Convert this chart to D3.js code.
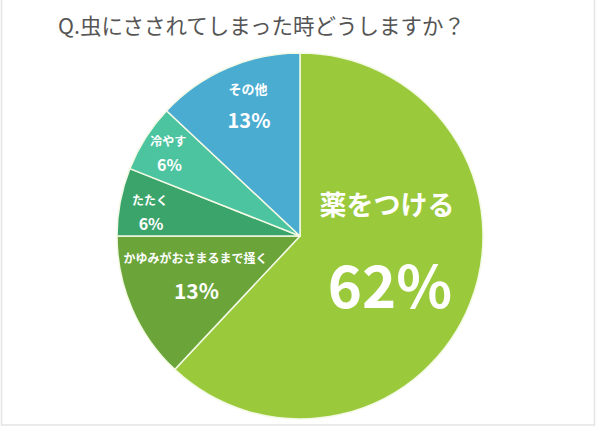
<!DOCTYPE html>
<html><head><meta charset="utf-8">
<script src="https://cdn.jsdelivr.net/npm/d3@7"></script>
<style>body{margin:0;background:#fff}svg{display:block}</style>
</head><body>
<svg id="c" width="600" height="431"></svg>
<script>
const title = "Q.虫にさされてしまった時どうしますか？";
const categories = ["薬をつける", "かゆみがおさまるまで掻く", "たたく", "冷やす", "その他"];
const values = [62, 13, 6, 6, 13];
const colors = ["#9aca3c", "#6ba53a", "#3ba46b", "#4cc4a0", "#4bacd2"];
const labelSize = [27, 12, 12, 12, 13];
const pctSize = [58, 21, 16, 16, 20];

const svg = d3.select("#c");
svg.append("rect").attr("x", 1.5).attr("y", -2).attr("width", 593).attr("height", 427)
  .attr("fill", "#fff").attr("stroke", "#e4e4e4").attr("stroke-width", 1.5);

svg.append("text").attr("x", 58).attr("y", 34)
  .attr("font-family", "'Noto Sans CJK JP', sans-serif").attr("font-size", 21.5)
  .attr("fill", "#555").text(title);

const cx = 300, cy = 236, r = 183;
const data = categories.map((c, i) => ({c, v: values[i], i}));
const pie = d3.pie().value(d => d.v).sort(null);
const arc = d3.arc().innerRadius(0).outerRadius(r);
const arcs = pie(data);
const g = svg.append("g").attr("transform", `translate(${cx},${cy})`);
g.selectAll("path").data(arcs).join("path")
  .attr("d", arc).attr("fill", d => colors[d.data.i])
  .attr("stroke", "#f3f9e4").attr("stroke-width", 1.5).attr("stroke-linejoin", "round");

// label anchor = point on the slice's bisector at fraction of radius, then nudged
const labelR = [0.511, 0.623, 0.834, 0.852, 0.716];
const nudgeY = [-67, -24, -8, -12, -27];
const gap = [80, 33, 24, 24, 31];
arcs.forEach(a => {
  const i = a.data.i;
  const ang = (a.startAngle + a.endAngle) / 2;
  const rr = r * labelR[i];
  const x = Math.sin(ang) * rr;
  const y = -Math.cos(ang) * rr + nudgeY[i];
  g.append("text").attr("x", x).attr("y", y)
    .attr("text-anchor", "middle").attr("dominant-baseline", "central")
    .attr("font-family", "'Noto Sans CJK JP', sans-serif").attr("font-weight", "bold")
    .attr("font-size", labelSize[i]).attr("fill", "#fff").text(a.data.c);
  g.append("text").attr("x", x + (i === 0 ? 3 : 1)).attr("y", y + gap[i])
    .attr("text-anchor", "middle").attr("dominant-baseline", "central")
    .attr("font-family", "'Noto Sans CJK JP', sans-serif").attr("font-weight", "bold")
    .attr("font-size", pctSize[i]).attr("fill", "#fff").text(a.data.v + "%");
});
</script>
</body></html>
